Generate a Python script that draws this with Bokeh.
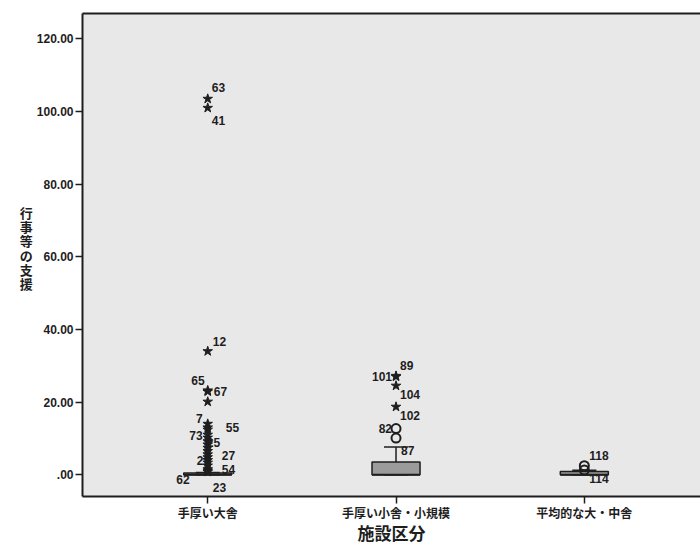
from bokeh.plotting import figure
from bokeh.models import Range1d, LinearAxis, FixedTicker, ColumnDataSource
from bokeh.embed import file_html
from bokeh.resources import INLINE

# ---------------- data ----------------
categories = ["手厚い大舎", "手厚い小舎・小規模", "平均的な大・中舎"]
cat_pos = [1, 2, 3]
y_ticks = [0, 20, 40, 60, 80, 100, 120]
y_tick_labels = [".00", "20.00", "40.00", "60.00", "80.00", "100.00", "120.00"]
x_title = "施設区分"
y_title = "行事等の支援"

q1 = [0.0, 0.0, 0.0]
median = [0.0, 0.0, 0.0]
q3 = [0.5, 3.5, 0.9]
whisker_low = [0.0, 0.0, 0.0]
whisker_high = [0.6, 7.6, 1.2]

# extreme outliers (stars)
star_cat = [1, 1, 1, 1, 1, 1, 1, 1, 1, 1, 1, 1, 1, 1, 1, 1, 1, 1, 1, 1, 1, 1, 1,
            2, 2, 2, 2]
star_val = [103.5, 101.0, 34.0, 23.2, 22.9, 20.1, 14.0, 13.0, 12.4, 11.0, 10.2,
            9.2, 8.3, 7.4, 6.5, 5.6, 4.8, 4.0, 3.3, 2.5, 1.5, 1.1, 0.8,
            27.2, 27.0, 24.5, 18.7]
star_lab = ["63", "41", "12", "65", "67", "", "7", "", "55", "73", "",
            "25", "", "", "", "27", "", "21", "", "", "54", "62", "23",
            "89", "101", "104", "102"]

# mild outliers (circles)
circ_cat = [2, 2, 3, 3]
circ_val = [12.7, 10.1, 2.5, 1.3]
circ_lab = ["82", "", "118", "114"]

# label next to the upper whisker of group 2
extra_cat = [2]
extra_val = [7.6]
extra_lab = ["87"]

# ---------------- label placement (screen px offsets, style only) ----------------
offsets = {
    "63": (4, -11, "left"), "41": (4, 13, "left"), "12": (5, -10, "left"),
    "65": (-3, -10, "right"), "67": (6, 0, "left"), "7": (-5, -5, "right"),
    "55": (18, -2, "left"), "73": (-5, 1, "right"), "25": (-1, 1, "left"),
    "27": (14, 1, "left"), "21": (-11, 0, "left"), "54": (14, 0, "left"),
    "62": (-18, 9, "right"), "23": (5, 16, "left"),
    "89": (4, -10, "left"), "101": (-4, 0, "right"), "104": (4, 9, "left"),
    "102": (4, 9, "left"), "82": (-4, 0, "right"), "87": (5, 3, "left"),
    "118": (5, -10, "left"), "114": (5, 9, "left"),
}

INK = "#1e1e1e"
NUM_FONT = "Liberation Sans"
JP_FONT = "Noto Sans CJK JP"

Y0, Y1 = -6.0, 127.0
p = figure(width=700, height=547, output_backend="svg", toolbar_location=None,
           x_range=Range1d(0.335, 3.617), y_range=Range1d(Y0, Y1),
           min_border_left=82, min_border_top=13, min_border_right=0,
           min_border_bottom=51)
p.background_fill_color = "#e8e8e8"
p.border_fill_color = "white"
p.outline_line_color = None
p.xgrid.visible = False
p.ygrid.visible = False

# axes
p.yaxis.ticker = FixedTicker(ticks=y_ticks)
p.yaxis.major_label_overrides = {t: l for t, l in zip(y_ticks, y_tick_labels)}
p.yaxis.minor_tick_line_color = None
p.yaxis.major_tick_in = 0
p.yaxis.major_tick_out = 7
p.yaxis.major_label_text_font = NUM_FONT
p.yaxis.major_label_text_font_style = "bold"
p.yaxis.major_label_text_font_size = "12px"
p.yaxis.major_label_text_color = INK
p.yaxis.major_label_standoff = 2
p.yaxis.axis_line_width = 2
p.yaxis.axis_line_color = INK
p.yaxis.major_tick_line_width = 1.5
p.yaxis.major_tick_line_color = INK
p.yaxis.axis_label = "\n".join(y_title) + "\n "
p.yaxis.axis_label_orientation = "horizontal"
p.yaxis.axis_label_text_font = JP_FONT
p.yaxis.axis_label_text_font_style = "bold"
p.yaxis.axis_label_text_font_size = "13px"
p.yaxis.axis_label_text_line_height = 0.75
p.yaxis.axis_label_text_color = INK
p.yaxis.axis_label_standoff = 1

p.xaxis.ticker = FixedTicker(ticks=cat_pos)
p.xaxis.major_label_overrides = {c: n for c, n in zip(cat_pos, categories)}
p.xaxis.minor_tick_line_color = None
p.xaxis.major_tick_in = 0
p.xaxis.major_tick_out = 7
p.xaxis.major_label_text_font = JP_FONT
p.xaxis.major_label_text_font_style = "bold"
p.xaxis.major_label_text_font_size = "12px"
p.xaxis.major_label_text_color = INK
p.xaxis.major_label_standoff = 0
p.xaxis.axis_line_width = 2
p.xaxis.axis_line_color = INK
p.xaxis.major_tick_line_width = 1.5
p.xaxis.major_tick_line_color = INK
p.xaxis.axis_label = x_title
p.xaxis.axis_label_text_font = JP_FONT
p.xaxis.axis_label_text_font_style = "bold"
p.xaxis.axis_label_text_font_size = "17px"
p.xaxis.axis_label_text_color = INK
p.xaxis.axis_label_standoff = -4

top_axis = LinearAxis(ticker=FixedTicker(ticks=[]), major_label_text_font_size="0px",
                      axis_line_width=2, axis_line_color=INK,
                      major_tick_line_color=None, minor_tick_line_color=None)
p.add_layout(top_axis, "above")

# boxes
box_w = 0.255
cap_w = 0.128
p.vbar(x=cat_pos, width=box_w, top=q3, bottom=q1, fill_color="#9b9b9b",
       line_color=INK, line_width=1.5)
p.segment(x0=[c - box_w / 2 for c in cat_pos], x1=[c + box_w / 2 for c in cat_pos],
          y0=median, y1=median, line_color=INK, line_width=2)
p.segment(x0=cat_pos, x1=cat_pos, y0=q3, y1=whisker_high, line_color=INK, line_width=1.5)
p.segment(x0=cat_pos, x1=cat_pos, y0=q1, y1=whisker_low, line_color=INK, line_width=1.5)
p.segment(x0=[c - cap_w / 2 for c in cat_pos], x1=[c + cap_w / 2 for c in cat_pos],
          y0=whisker_high, y1=whisker_high, line_color=INK, line_width=1.5)
p.segment(x0=[c - cap_w / 2 for c in cat_pos], x1=[c + cap_w / 2 for c in cat_pos],
          y0=whisker_low, y1=whisker_low, line_color=INK, line_width=1.5)

# labels
lab_x, lab_y, lab_t = [], [], []
for cats, vals, labs in ((star_cat, star_val, star_lab), (circ_cat, circ_val, circ_lab),
                         (extra_cat, extra_val, extra_lab)):
    for c, v, l in zip(cats, vals, labs):
        if l:
            lab_x.append(c)
            lab_y.append(v)
            lab_t.append(l)
for align in ("left", "right"):
    idx = [i for i, t in enumerate(lab_t) if offsets[t][2] == align]
    src = ColumnDataSource(dict(
        x=[lab_x[i] for i in idx], y=[lab_y[i] for i in idx],
        t=[lab_t[i] for i in idx],
        dx=[offsets[lab_t[i]][0] for i in idx], dy=[offsets[lab_t[i]][1] for i in idx]))
    p.text(x="x", y="y", text="t", x_offset="dx", y_offset="dy", source=src,
           text_align=align, text_baseline="middle", text_font_size="12px",
           text_font_style="bold", text_color=INK,
           text_font={"value": NUM_FONT})

# outlier markers
p.scatter(x=star_cat, y=star_val, marker="star", size=10, fill_color=INK,
          line_color=INK, line_width=1)
p.scatter(x=circ_cat, y=circ_val, marker="circle", size=9, fill_color=None,
          line_color=INK, line_width=2)

open("out.html", "w").write(file_html(p, INLINE))
